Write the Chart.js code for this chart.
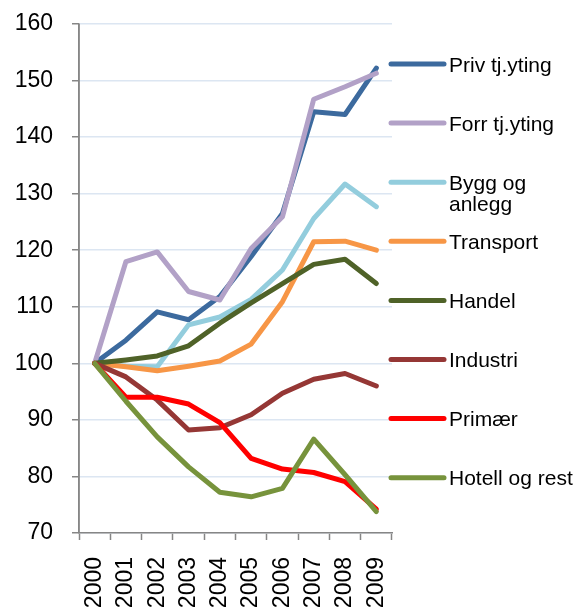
<!DOCTYPE html>
<html>
<head>
<meta charset="utf-8">
<script src="https://cdn.jsdelivr.net/npm/chart.js@4"></script>
<style>
  html, body { margin: 0; padding: 0; background: #fff; }
  #wrap { width: 575px; height: 615px; position: relative; }
</style>
</head>
<body>
<div id="wrap"><canvas id="graf"></canvas></div>
<script>
// data
const years = ['2000', '2001', '2002', '2003', '2004', '2005', '2006', '2007', '2008', '2009'];
const privTjyting = [100, 104.1, 109.1, 107.7, 111.8, 118.9, 126.5, 144.5, 144.0, 152.2];
const forrTjyting = [100, 118.0, 119.7, 112.7, 111.2, 120.3, 125.9, 146.7, 148.9, 151.3];
const byggAnlegg = [100, 99.5, 99.4, 106.8, 108.2, 111.3, 116.5, 125.6, 131.7, 127.7];
const transport = [100, 99.4, 98.7, 99.5, 100.4, 103.4, 110.9, 121.5, 121.6, 120.0];
const handel = [100, 100.6, 101.3, 103.1, 107.1, 110.7, 114.1, 117.5, 118.4, 114.1];
const industri = [100, 97.6, 93.5, 88.2, 88.6, 90.9, 94.7, 97.2, 98.2, 96.0];
const primaer = [100, 94.0, 94.0, 92.8, 89.5, 83.2, 81.3, 80.7, 79.1, 74.2];
const hotellRest = [100, 93.3, 87.0, 81.7, 77.2, 76.4, 77.9, 86.6, 80.3, 73.8];

const serier = [
  { label: ['Priv tj.yting'], data: privTjyting, color: '#3c6a9e' },
  { label: ['Forr tj.yting'], data: forrTjyting, color: '#b2a1c7' },
  { label: ['Bygg og', 'anlegg'], data: byggAnlegg, color: '#93cddd' },
  { label: ['Transport'], data: transport, color: '#f79646' },
  { label: ['Handel'], data: handel, color: '#4f6228' },
  { label: ['Industri'], data: industri, color: '#953735' },
  { label: ['Primær'], data: primaer, color: '#ff0000' },
  { label: ['Hotell og rest'], data: hotellRest, color: '#77933c' }
];

const FONT = 'Arial, "Liberation Sans", sans-serif';

// egen legende til høyre, tegnet fra datasettene
const legendePlugin = {
  id: 'legende',
  afterDraw(chart) {
    const ctx = chart.ctx;
    ctx.save();
    ctx.font = '21px ' + FONT;
    ctx.textBaseline = 'middle';
    ctx.fillStyle = '#000';
    chart.data.datasets.forEach((ds, i) => {
      const y = 64 + i * 59.1;
      ctx.strokeStyle = ds.borderColor;
      ctx.lineWidth = 5;
      ctx.lineCap = 'round';
      ctx.beginPath();
      ctx.moveTo(391, y);
      ctx.lineTo(444, y);
      ctx.stroke();
      ds.legendLines.forEach((txt, j) => {
        ctx.fillText(txt, 449, y + 2 + j * 21);
      });
    });
    // y-aksens linje
    const ca = chart.chartArea;
    ctx.strokeStyle = '#868686';
    ctx.lineWidth = 1.5;
    ctx.lineCap = 'butt';
    ctx.beginPath();
    ctx.moveTo(ca.left, ca.top);
    ctx.lineTo(ca.left, ca.bottom);
    ctx.stroke();
    ctx.restore();
  }
};

const ctx = document.getElementById('graf').getContext('2d');
new Chart(ctx, {
  type: 'line',
  data: {
    labels: years,
    datasets: serier.map((s, i) => ({
      label: s.label.join(' '),
      legendLines: s.label,
      data: s.data,
      borderColor: s.color,
      backgroundColor: s.color,
      borderWidth: 5,
      pointRadius: 0,
      tension: 0,
      borderJoinStyle: 'round',
      borderCapStyle: 'round',
      order: serier.length - i
    }))
  },
  options: {
    responsive: true,
    maintainAspectRatio: false,
    animation: false,
    layout: { padding: { left: 0, right: 183, top: 24, bottom: 0 } },
    plugins: {
      legend: { display: false },
      tooltip: { enabled: false }
    },
    scales: {
      x: {
        offset: true,
        afterFit: (scale) => { scale.height = 82; },
        grid: {
          offset: true,
          drawOnChartArea: false,
          tickLength: 7,
          tickColor: '#868686',
          tickWidth: 1.5
        },
        border: { color: '#868686', width: 1.5 },
        ticks: {
          minRotation: 90,
          maxRotation: 90,
          padding: 17,
          color: '#000',
          font: { family: FONT, size: 23 }
        }
      },
      y: {
        min: 70,
        max: 160,
        afterFit: (scale) => {
          scale.width = 79;
          scale.paddingTop = 0;
          scale.paddingBottom = 0;
        },
        grid: {
          color: '#dce6f2',
          lineWidth: 1.5,
          tickLength: 7,
          tickColor: '#868686',
          tickWidth: 1.5
        },
        border: { color: '#868686', width: 1.5 },
        ticks: {
          stepSize: 10,
          padding: 19,
          color: '#000',
          font: { family: FONT, size: 23 }
        }
      }
    }
  },
  plugins: [legendePlugin]
});
</script>
</body>
</html>
